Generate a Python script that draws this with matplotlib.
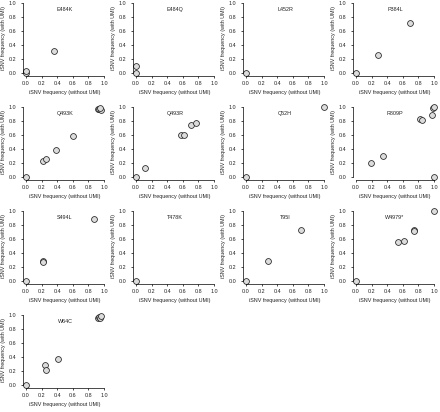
import numpy as np
import matplotlib
matplotlib.use("Agg")
import matplotlib.pyplot as plt

plt.rcParams['font.family'] = ['Liberation Sans', 'DejaVu Sans']

# mutation names, one panel each
mutations = ['E484K', 'E484Q', 'L452R', 'P384L',
             'Q493K', 'Q493R', 'Q52H', 'R809P',
             'S494L', 'T478K', 'T95I', 'W4979*',
             'W64C']

# iSNV frequency without UMI (x) and with UMI (y), per mutation
freq_no_umi = {
    'E484K': [0.0, 0.0, 0.36],
    'E484Q': [0.0, 0.0],
    'L452R': [0.0],
    'P384L': [0.0, 0.28, 0.69],
    'Q493K': [0.0, 0.22, 0.25, 0.38, 0.60, 0.92, 0.94, 0.96, 0.95],
    'Q493R': [0.0, 0.12, 0.58, 0.62, 0.71, 0.77],
    'Q52H': [0.0, 1.0],
    'R809P': [0.19, 0.35, 0.82, 0.84, 0.98, 0.99, 1.0, 1.0],
    'S494L': [0.0, 0.22, 0.22, 0.87],
    'T478K': [0.0],
    'T95I': [0.0, 0.28, 0.71],
    'W4979*': [0.0, 0.54, 0.61, 0.75, 0.75, 1.0],
    'W64C': [0.0, 0.24, 0.26, 0.41, 0.92, 0.94, 0.95, 0.96],
}
freq_umi = {
    'E484K': [0.0, 0.03, 0.31],
    'E484Q': [0.0, 0.10],
    'L452R': [0.0],
    'P384L': [0.0, 0.26, 0.71],
    'Q493K': [0.0, 0.22, 0.25, 0.39, 0.59, 0.97, 0.97, 0.96, 0.98],
    'Q493R': [0.0, 0.13, 0.60, 0.60, 0.74, 0.77],
    'Q52H': [0.0, 1.0],
    'R809P': [0.20, 0.30, 0.82, 0.81, 0.88, 0.98, 1.0, 0.0],
    'S494L': [0.0, 0.28, 0.27, 0.88],
    'T478K': [0.0],
    'T95I': [0.0, 0.28, 0.72],
    'W4979*': [0.0, 0.55, 0.57, 0.73, 0.71, 1.0],
    'W64C': [0.0, 0.28, 0.21, 0.37, 0.96, 0.97, 0.95, 0.98],
}

ticks = [0.0, 0.2, 0.4, 0.6, 0.8, 1.0]
W, H = 440, 412
fs = 3.9

fig = plt.figure(figsize=(W / 100, H / 100), dpi=100)

for i, name in enumerate(mutations):
    col, row = i % 4, i // 4
    # plot region in pixels (R style, 4% padding around 0..1)
    left = 22.9 + 110 * col
    top = 0.0 + 104 * row
    w, h = 84.2, 75.6
    ax = fig.add_axes([left / W, 1 - (top + h) / H, w / W, h / H])
    ax.set_facecolor('none')

    ax.plot(freq_no_umi[name], freq_umi[name], 'o', ms=4.2,
            mfc='#dcdcdc', mec='#222222', mew=0.55, clip_on=False)

    ax.set_xlim(-0.04, 1.04)
    ax.set_ylim(-0.04, 1.04)
    ax.set_xticks(ticks)
    ax.set_yticks(ticks)
    ax.set_xticklabels(['%.1f' % t for t in ticks])
    ax.set_yticklabels(['%.1f' % t for t in ticks])
    ax.spines['top'].set_visible(False)
    ax.spines['right'].set_visible(False)
    for s in ['left', 'bottom']:
        ax.spines[s].set_bounds(0, 1)
        ax.spines[s].set_linewidth(0.5)
    ax.tick_params(length=1.6, width=0.5, labelsize=fs, pad=2.2,
                   labelcolor='#222222')
    ax.tick_params(axis='y', pad=3.0)

    ax.set_xlabel('iSNV frequency (without UMI)', fontsize=fs,
                  labelpad=3.2, color='#222222')
    ax.set_ylabel('iSNV frequency (with UMI)', fontsize=fs,
                  labelpad=2.2, color='#222222')
    ax.text(0.5, 0.9, name, ha='center', va='center', fontsize=fs,
            color='#222222')

fig.savefig('out.png', dpi=100)
